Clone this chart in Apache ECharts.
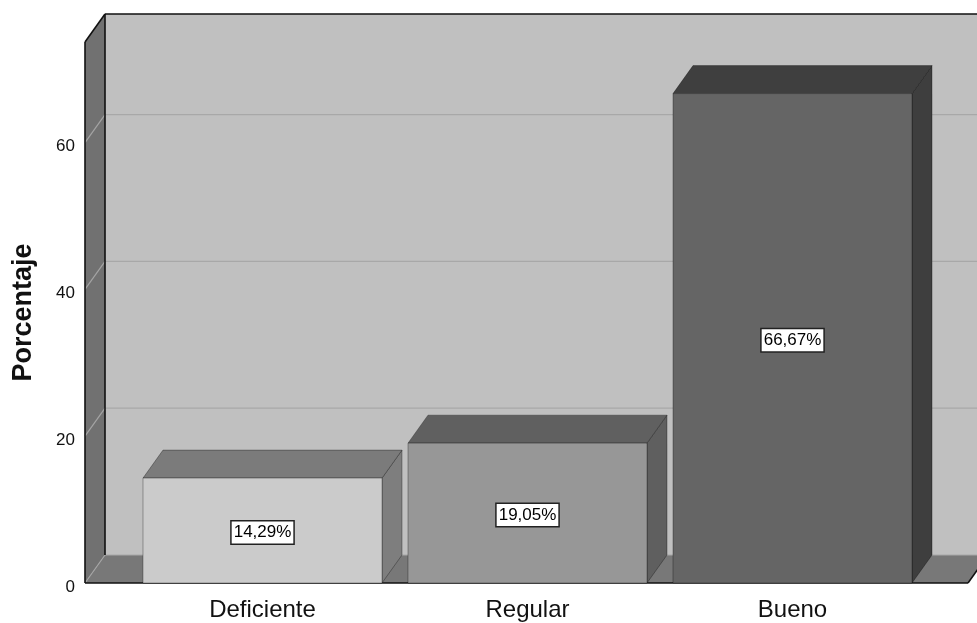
<!DOCTYPE html>
<html>
<head>
<meta charset="utf-8">
<script src="https://cdn.jsdelivr.net/npm/echarts@6/dist/echarts.min.js"></script>
<style>
  html, body { margin: 0; padding: 0; background: #ffffff; }
  #chart { width: 977px; height: 623px; }
</style>
</head>
<body>
<div id="chart"></div>
<script>
// Categories and their percentage values
const categories = ['Deficiente', 'Regular', 'Bueno'];
const percentages = [14.29, 19.05, 66.67];
const yTicks = [0, 20, 40, 60];
const yMax = 73.7;

// Shades for each bar: front face, top face, right side face
const frontColors = ['#cbcbcb', '#979797', '#656565'];
const topColors = ['#7b7b7b', '#606060', '#3f3f3f'];
const sideColors = ['#7e7e7e', '#5f5f5f', '#3e3e3e'];

// 3D depth offset of the box (px)
const DX = 20, DY = -28;
// how far the frame reaches past the category band on each side
const AXIS_OFFSET = 45;
const RIGHT_EXT = 43;
const FONT = 'Liberation Sans, Arial, sans-serif';

function fmtPct(v) {
  return v.toFixed(2).replace('.', ',') + '%';
}

// Back wall, left wall, floor and grid lines of the 3D box
function renderFrame(params, api) {
  const cs = params.coordSys;
  const xl = cs.x - AXIS_OFFSET;
  const xr = cs.x + cs.width + RIGHT_EXT;
  const y0 = api.coord([0, 0])[1];
  const yTop = api.coord([0, yMax])[1];
  const children = [];

  children.push({
    type: 'rect',
    shape: { x: xl + DX, y: yTop + DY, width: xr - xl + 40, height: y0 - yTop },
    style: { fill: '#c0c0c0' }
  });
  children.push({
    type: 'polygon',
    shape: { points: [[xl, yTop], [xl + DX, yTop + DY], [xl + DX, y0 + DY], [xl, y0]] },
    style: { fill: '#717171' }
  });
  children.push({
    type: 'polygon',
    shape: { points: [[xl, y0], [xl + DX, y0 + DY], [xr + DX, y0 + DY], [xr, y0]] },
    style: { fill: '#787878' }
  });

  yTicks.forEach(function (t) {
    const y = api.coord([0, t])[1];
    children.push({
      type: 'line',
      shape: { x1: xl + DX, y1: y + DY, x2: xr + DX + 40, y2: y + DY },
      style: { stroke: '#a8a8a8', lineWidth: 1.2 }
    });
    children.push({
      type: 'line',
      shape: { x1: xl, y1: y, x2: xl + DX, y2: y + DY },
      style: { stroke: '#a4a4a4', lineWidth: 1.2 }
    });
  });

  const dark = { stroke: '#111111', lineWidth: 1.6 };
  children.push({ type: 'line', shape: { x1: xl + DX, y1: yTop + DY, x2: xr + DX + 40, y2: yTop + DY }, style: dark });
  children.push({ type: 'line', shape: { x1: xl, y1: yTop, x2: xl + DX, y2: yTop + DY }, style: dark });
  children.push({ type: 'line', shape: { x1: xl, y1: yTop, x2: xl, y2: y0 }, style: dark });
  children.push({ type: 'line', shape: { x1: xl + DX, y1: yTop + DY, x2: xl + DX, y2: y0 + DY }, style: dark });
  children.push({ type: 'line', shape: { x1: xl, y1: y0, x2: xr, y2: y0 }, style: dark });
  children.push({ type: 'line', shape: { x1: xr, y1: y0, x2: xr + DX, y2: y0 + DY }, style: dark });

  return { type: 'group', children: children };
}

// One 3D bar with its value tag
function renderBar(params, api) {
  const i = api.value(0);
  const v = api.value(1);
  const base = api.coord([i, 0]);
  const top = api.coord([i, v]);
  const band = api.size([1, 0])[0];
  const w = band * 0.902;
  const x0 = base[0] - w / 2, x1 = base[0] + w / 2;
  const yb = base[1], yt = top[1];
  const edge = 'rgba(0,0,0,0.3)';
  return {
    type: 'group',
    children: [
      {
        type: 'polygon',
        shape: { points: [[x1, yt], [x1 + DX, yt + DY], [x1 + DX, yb + DY], [x1, yb]] },
        style: { fill: sideColors[i], stroke: edge, lineWidth: 1 }
      },
      {
        type: 'polygon',
        shape: { points: [[x0, yt], [x0 + DX, yt + DY], [x1 + DX, yt + DY], [x1, yt]] },
        style: { fill: topColors[i], stroke: edge, lineWidth: 1 }
      },
      {
        type: 'rect',
        shape: { x: x0, y: yt, width: w, height: yb - yt },
        style: { fill: frontColors[i], stroke: edge, lineWidth: 1 }
      },
      {
        type: 'text',
        x: base[0],
        y: (yb + yt) / 2 + 2,
        style: {
          text: fmtPct(v),
          fill: '#000000',
          fontSize: 17,
          fontFamily: FONT,
          align: 'center',
          verticalAlign: 'middle',
          backgroundColor: '#ffffff',
          borderColor: '#222222',
          borderWidth: 1.5,
          padding: [3, 2, 2, 2]
        }
      }
    ]
  };
}

const chart = echarts.init(document.getElementById('chart'), null, { renderer: 'canvas' });
chart.setOption({
  animation: false,
  backgroundColor: '#ffffff',
  grid: { left: 130, right: 52, top: 42, bottom: 40, containLabel: false, outerBoundsMode: 'none' },
  xAxis: {
    type: 'category',
    data: categories,
    axisLine: { show: false },
    axisTick: { show: false },
    axisLabel: { fontSize: 24, fontFamily: FONT, color: '#111111', margin: 15 }
  },
  yAxis: {
    type: 'value',
    min: 0,
    max: yMax,
    interval: 20,
    offset: AXIS_OFFSET,
    name: 'Porcentaje',
    nameLocation: 'middle',
    nameRotate: 90,
    nameGap: 48,
    nameTextStyle: { fontSize: 27, fontWeight: 'bold', fontFamily: FONT, color: '#111111' },
    axisLine: { show: false },
    axisTick: { show: false },
    splitLine: { show: false },
    axisLabel: {
      fontSize: 17, fontFamily: FONT, color: '#111111', margin: 10,
      verticalAlign: 'top', lineHeight: 8, showMaxLabel: false
    }
  },
  series: [
    {
      type: 'custom',
      renderItem: renderFrame,
      data: [[0, 0]],
      encode: { x: 0, y: 1 },
      clip: false,
      silent: true,
      z: 1
    },
    {
      type: 'custom',
      renderItem: renderBar,
      data: categories.map(function (c, i) { return [i, percentages[i]]; }),
      encode: { x: 0, y: 1 },
      clip: false,
      z: 2
    }
  ]
});
</script>
</body>
</html>
